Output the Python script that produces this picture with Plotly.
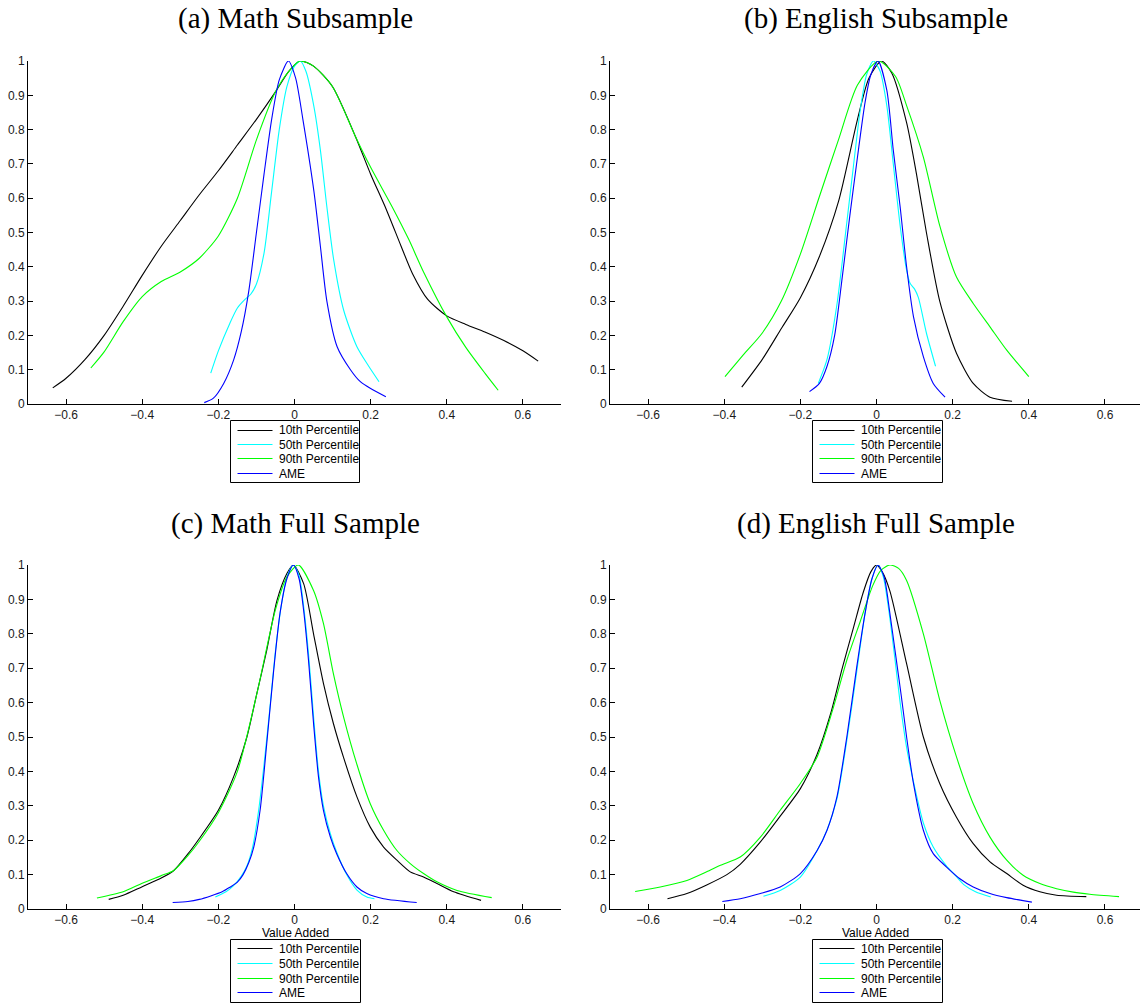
import plotly.graph_objects as go

# ---------------- data ----------------
series_names = ["10th Percentile", "50th Percentile", "90th Percentile", "AME"]
series_colors = ["#000000", "#00FFFF", "#00FF00", "#0000FF"]
panel_titles = ["(a) Math Subsample", "(b) English Subsample",
                "(c) Math Full Sample", "(d) English Full Sample"]
x_tickvals = [-0.6, -0.4, -0.2, 0, 0.2, 0.4, 0.6]
x_ticktext = ["\u22120.6", "\u22120.4", "\u22120.2", "0", "0.2", "0.4", "0.6"]
y_tickvals = [0, 0.1, 0.2, 0.3, 0.4, 0.5, 0.6, 0.7, 0.8, 0.9, 1]
y_ticktext = ["0", "0.1", "0.2", "0.3", "0.4", "0.5", "0.6", "0.7", "0.8", "0.9", "1"]
x_label = "Value Added"

# (a) Math Subsample
a_p10_x = [-0.635, -0.6, -0.55, -0.5, -0.45, -0.4, -0.35, -0.3, -0.25, -0.2, -0.15, -0.1, -0.05, -0.015,
           0.015, 0.05, 0.1, 0.16, 0.2, 0.24, 0.28, 0.31, 0.35, 0.4, 0.45, 0.5, 0.55, 0.6, 0.64]
a_p10_y = [0.047, 0.075, 0.13, 0.2, 0.285, 0.375, 0.46, 0.535, 0.61, 0.68, 0.755, 0.83, 0.91, 0.97,
           1.0, 0.985, 0.925, 0.78, 0.67, 0.57, 0.46, 0.38, 0.305, 0.257, 0.232, 0.21, 0.185, 0.155, 0.125]
a_p50_x = [-0.22, -0.2, -0.17, -0.15, -0.13, -0.115, -0.1, -0.08, -0.06, -0.04, -0.02, 0.0, 0.015, 0.03,
           0.051, 0.068, 0.085, 0.103, 0.129, 0.164, 0.195, 0.222]
a_p50_y = [0.09, 0.155, 0.235, 0.28, 0.305, 0.32, 0.35, 0.44, 0.62, 0.8, 0.925, 0.985, 1.0, 0.97,
           0.867, 0.74, 0.575, 0.42, 0.274, 0.167, 0.11, 0.065]
a_p90_x = [-0.535, -0.5, -0.45, -0.4, -0.35, -0.3, -0.25, -0.2, -0.15, -0.1, -0.05, -0.015, 0.015, 0.05,
           0.1, 0.16, 0.2, 0.256, 0.3, 0.339, 0.4, 0.45, 0.5, 0.535]
a_p90_y = [0.105, 0.152, 0.24, 0.313, 0.357, 0.385, 0.425, 0.49, 0.6, 0.77, 0.91, 0.97, 1.0, 0.985,
           0.925, 0.78, 0.69, 0.576, 0.48, 0.385, 0.254, 0.165, 0.09, 0.04]
a_ame_x = [-0.237, -0.213, -0.186, -0.16, -0.14, -0.12, -0.1, -0.08, -0.06, -0.04, -0.016, 0.003, 0.022,
           0.051, 0.068, 0.085, 0.112, 0.147, 0.173, 0.2, 0.24]
a_ame_y = [0.004, 0.017, 0.06, 0.128, 0.21, 0.33, 0.5, 0.67, 0.83, 0.945, 1.0, 0.95, 0.83,
           0.62, 0.46, 0.30, 0.167, 0.1, 0.065, 0.045, 0.021]

# (b) English Subsample
b_p10_x = [-0.354, -0.3, -0.25, -0.2, -0.15, -0.1, -0.05, -0.02, 0.013, 0.04, 0.079, 0.105, 0.131,
           0.166, 0.21, 0.254, 0.298, 0.356]
b_p10_y = [0.049, 0.13, 0.22, 0.31, 0.43, 0.59, 0.83, 0.95, 1.0, 0.965, 0.82, 0.67, 0.50,
           0.30, 0.148, 0.06, 0.02, 0.008]
b_p50_x = [-0.153, -0.13, -0.104, -0.078, -0.061, -0.043, -0.026, -0.008, 0.0095, 0.027, 0.044, 0.062,
           0.079, 0.088, 0.1, 0.11, 0.131, 0.155]
b_p50_y = [0.06, 0.13, 0.29, 0.53, 0.69, 0.855, 0.96, 1.0, 0.97, 0.87, 0.70, 0.52,
           0.39, 0.352, 0.335, 0.31, 0.207, 0.11]
b_p90_x = [-0.398, -0.35, -0.3, -0.25, -0.2, -0.15, -0.1, -0.05, 0.005, 0.05, 0.079, 0.123, 0.166,
           0.21, 0.254, 0.298, 0.342, 0.4]
b_p90_y = [0.08, 0.143, 0.207, 0.30, 0.437, 0.605, 0.77, 0.93, 1.0, 0.955, 0.87, 0.72, 0.52,
           0.37, 0.293, 0.225, 0.157, 0.08]
b_ame_x = [-0.176, -0.15, -0.13, -0.11, -0.09, -0.07, -0.05, -0.03, -0.015, 0.004, 0.027, 0.044, 0.062,
           0.079, 0.097, 0.123, 0.149, 0.18]
b_ame_y = [0.036, 0.06, 0.11, 0.2, 0.37, 0.55, 0.72, 0.88, 0.96, 1.0, 0.915, 0.74, 0.575,
           0.40, 0.255, 0.138, 0.06, 0.02]

# (c) Math Full Sample
c_p10_x = [-0.488, -0.45, -0.4, -0.35, -0.317, -0.28, -0.25, -0.2, -0.16, -0.125, -0.099, -0.073, -0.046,
           -0.02, -0.003, 0.024, 0.05, 0.076, 0.102, 0.129, 0.164, 0.199, 0.234, 0.269, 0.304, 0.339,
           0.374, 0.418, 0.49]
c_p10_y = [0.028, 0.04, 0.065, 0.09, 0.112, 0.16, 0.205, 0.287, 0.384, 0.5, 0.626, 0.752, 0.897,
           0.975, 1.0, 0.946, 0.80, 0.656, 0.54, 0.44, 0.326, 0.238, 0.18, 0.142, 0.108, 0.093,
           0.074, 0.05, 0.025]
c_p50_x = [-0.208, -0.18, -0.16, -0.14, -0.125, -0.11, -0.095, -0.08, -0.065, -0.05, -0.035, -0.02,
           -0.003, 0.012, 0.024, 0.037, 0.05, 0.063, 0.076, 0.094, 0.111, 0.137, 0.164, 0.19, 0.21]
c_p50_y = [0.035, 0.05, 0.068, 0.095, 0.125, 0.18, 0.28, 0.42, 0.58, 0.75, 0.88, 0.965,
           1.0, 0.97, 0.88, 0.74, 0.56, 0.40, 0.30, 0.22, 0.165, 0.1, 0.055, 0.035, 0.03]
c_p90_x = [-0.519, -0.45, -0.4, -0.35, -0.317, -0.28, -0.25, -0.2, -0.15, -0.1, -0.05, -0.02, 0.01, 0.05,
           0.076, 0.102, 0.129, 0.164, 0.199, 0.234, 0.269, 0.304, 0.339, 0.374, 0.427, 0.518]
c_p90_y = [0.032, 0.05, 0.075, 0.097, 0.112, 0.155, 0.197, 0.28, 0.4, 0.62, 0.87, 0.965, 1.0, 0.926,
           0.83, 0.685, 0.558, 0.42, 0.306, 0.229, 0.17, 0.132, 0.103, 0.079, 0.054, 0.033]
c_ame_x = [-0.32, -0.28, -0.25, -0.22, -0.19, -0.17, -0.15, -0.135, -0.12, -0.107, -0.09, -0.073,
           -0.055, -0.038, -0.02, -0.003, 0.012, 0.024, 0.037, 0.05, 0.063, 0.076, 0.094, 0.111, 0.137,
           0.164, 0.19, 0.234, 0.321]
c_ame_y = [0.019, 0.022, 0.028, 0.038, 0.05, 0.063, 0.078, 0.1, 0.135, 0.18, 0.29, 0.48,
           0.69, 0.86, 0.96, 1.0, 0.96, 0.868, 0.72, 0.54, 0.384, 0.287, 0.21, 0.16, 0.103,
           0.064, 0.045, 0.03, 0.019]

# (d) English Full Sample
d_p10_x = [-0.549, -0.498, -0.446, -0.393, -0.358, -0.305, -0.253, -0.2, -0.156, -0.12, -0.09, -0.06,
           -0.035, -0.015, 0.0, 0.015, 0.035, 0.079, 0.123, 0.166, 0.21, 0.254, 0.298, 0.342, 0.385,
           0.429, 0.473, 0.551]
d_p10_y = [0.03, 0.045, 0.07, 0.1, 0.13, 0.195, 0.27, 0.35, 0.45, 0.57, 0.7, 0.82,
           0.92, 0.98, 1.0, 0.98, 0.925, 0.713, 0.50, 0.365, 0.267, 0.19, 0.137, 0.103, 0.069,
           0.05, 0.04, 0.036]
d_p50_x = [-0.297, -0.253, -0.2, -0.156, -0.13, -0.104, -0.078, -0.052, -0.03, -0.012, 0.004, 0.018,
           0.032, 0.048, 0.062, 0.079, 0.097, 0.123, 0.149, 0.184, 0.205, 0.23, 0.26, 0.3]
d_p50_y = [0.037, 0.054, 0.093, 0.17, 0.23, 0.32, 0.49, 0.69, 0.86, 0.96, 1.0, 0.965,
           0.87, 0.73, 0.6, 0.47, 0.37, 0.25, 0.18, 0.125, 0.1, 0.07, 0.05, 0.035]
d_p90_x = [-0.634, -0.568, -0.498, -0.446, -0.41, -0.358, -0.305, -0.253, -0.2, -0.156, -0.113, -0.078,
           -0.043, -0.01, 0.012, 0.035, 0.058, 0.079, 0.123, 0.166, 0.21, 0.254, 0.298, 0.342, 0.385,
           0.429, 0.473, 0.517, 0.56, 0.637]
d_p90_y = [0.051, 0.064, 0.083, 0.108, 0.127, 0.151, 0.209, 0.287, 0.365, 0.442, 0.587, 0.723,
           0.835, 0.94, 0.985, 1.0, 0.99, 0.955, 0.80, 0.607, 0.442, 0.306, 0.209, 0.142, 0.098,
           0.074, 0.059, 0.049, 0.043, 0.036]
d_ame_x = [-0.405, -0.358, -0.305, -0.253, -0.2, -0.156, -0.13, -0.104, -0.078, -0.052, -0.03, -0.012,
           0.004, 0.02, 0.035, 0.05, 0.065, 0.079, 0.097, 0.123, 0.149, 0.184, 0.219, 0.254, 0.298,
           0.342, 0.408]
d_ame_y = [0.022, 0.03, 0.045, 0.064, 0.103, 0.17, 0.229, 0.326, 0.5, 0.703, 0.86, 0.96,
           1.0, 0.965, 0.86, 0.74, 0.62, 0.50, 0.365, 0.229, 0.161, 0.122, 0.088, 0.064, 0.045,
           0.033, 0.02]

panels = [
    [(a_p10_x, a_p10_y), (a_p50_x, a_p50_y), (a_p90_x, a_p90_y), (a_ame_x, a_ame_y)],
    [(b_p10_x, b_p10_y), (b_p50_x, b_p50_y), (b_p90_x, b_p90_y), (b_ame_x, b_ame_y)],
    [(c_p10_x, c_p10_y), (c_p50_x, c_p50_y), (c_p90_x, c_p90_y), (c_ame_x, c_ame_y)],
    [(d_p10_x, d_p10_y), (d_p50_x, d_p50_y), (d_p90_x, d_p90_y), (d_ame_x, d_ame_y)],
]

# ---------------- layout geometry (pixels) ----------------
W, H = 1140, 1004
boxes = [(28, 561, 61, 404), (610, 1140, 61, 404),
         (28, 561, 565, 909), (610, 1140, 565, 909)]
x_ranges = [[-0.7, 0.7], [-0.7, 0.692], [-0.7, 0.7], [-0.7, 0.692]]
legend_boxes = [(230.5, 359.5, 420.5, 482.5), (812.5, 942.5, 420.5, 482.5),
                (230.5, 360.5, 939.5, 1002.5), (812.5, 942.5, 939.5, 1002.5)]
title_pos = [(295, 19), (876, 19), (295, 523), (876, 523)]


def px(x):
    return x / W


def py(y):
    return (H - y) / H


fig = go.Figure()
tick_font = dict(family="Liberation Sans, Arial, sans-serif", size=12, color="#1a1a1a")
shapes = []

for i, series in enumerate(panels):
    xa = "x" if i == 0 else f"x{i+1}"
    ya = "y" if i == 0 else f"y{i+1}"
    for (xs, ys), name, col in zip(series, series_names, series_colors):
        fig.add_trace(go.Scatter(
            x=xs, y=ys, mode="lines", name=name,
            line=dict(color=col, width=1.1, shape="spline", smoothing=0.7),
            xaxis=xa, yaxis=ya, showlegend=False, hoverinfo="skip"))
    l, r, t, b = boxes[i]
    axx = dict(domain=[px(l), px(r)], range=x_ranges[i], anchor=ya,
               tickvals=x_tickvals, ticktext=x_ticktext, ticks="inside", ticklen=5,
               tickcolor="black", showline=True, linecolor="black", linewidth=1,
               showgrid=False, zeroline=False, mirror=False, tickfont=tick_font, fixedrange=True)
    axy = dict(domain=[py(b), py(t)], range=[0, 1], anchor=xa,
               tickvals=y_tickvals, ticktext=y_ticktext, ticks="inside", ticklen=5,
               tickcolor="black", showline=True, linecolor="black", linewidth=1,
               showgrid=False, zeroline=False, mirror=False, tickfont=tick_font, fixedrange=True)
    fig.layout["xaxis" if i == 0 else f"xaxis{i+1}"] = axx
    fig.layout["yaxis" if i == 0 else f"yaxis{i+1}"] = axy

    # legend box drawn as shapes + text
    lx0, lx1, ly0, ly1 = legend_boxes[i]
    shapes.append(dict(type="rect", xref="paper", yref="paper",
                       x0=px(lx0), x1=px(lx1), y0=py(ly1), y1=py(ly0),
                       line=dict(color="black", width=1), fillcolor="white", layer="above"))
    for k, (name, col) in enumerate(zip(series_names, series_colors)):
        yy = round(ly0 + 9 + 14.5 * k) + 0.5
        shapes.append(dict(type="line", xref="paper", yref="paper",
                           x0=px(lx0 + 7), x1=px(lx0 + 42), y0=py(yy), y1=py(yy),
                           line=dict(color=col, width=1), layer="above"))
        fig.add_annotation(x=px(lx0 + 46), y=py(yy), xref="paper", yref="paper", text=name,
                           showarrow=False, xanchor="left", yanchor="middle",
                           font=dict(family="Liberation Sans, Arial, sans-serif", size=12, color="black"))

    tx, ty = title_pos[i]
    fig.add_annotation(x=px(tx), y=py(ty), xref="paper", yref="paper",
                       text=panel_titles[i], showarrow=False, xanchor="center", yanchor="middle",
                       font=dict(family="Liberation Serif, Times New Roman, serif", size=29, color="black"))

for cx in (295, 876):
    fig.add_annotation(x=px(cx), y=py(933), xref="paper", yref="paper", text=x_label,
                       showarrow=False, xanchor="center", yanchor="middle",
                       font=dict(family="Liberation Sans, Arial, sans-serif", size=12, color="black"))

fig.update_layout(width=W, height=H, margin=dict(l=0, r=0, t=0, b=0, autoexpand=False),
                  paper_bgcolor="white", plot_bgcolor="white", showlegend=False, shapes=shapes)

fig.write_html("out.html", config={"displayModeBar": False})
